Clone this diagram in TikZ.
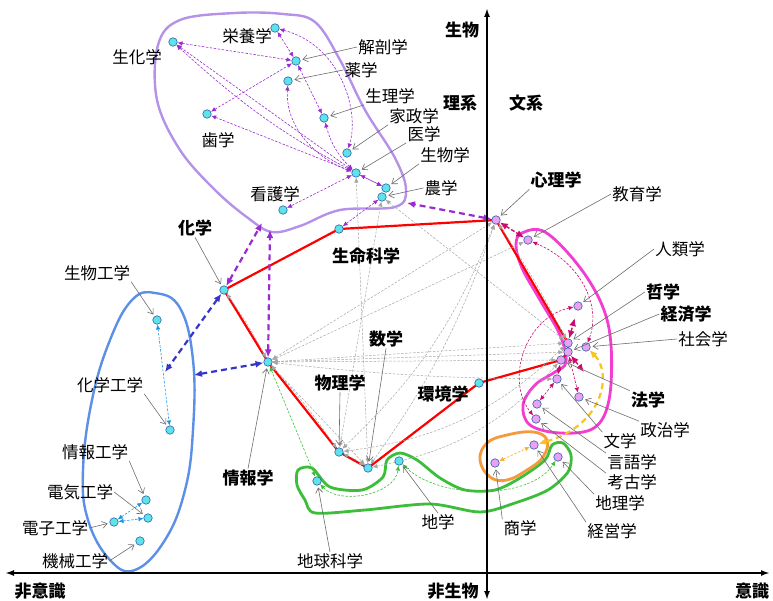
\documentclass[tikz,border=0pt]{standalone}
\usepackage{fontspec}
\setmainfont{Noto Sans CJK JP}
\usetikzlibrary{arrows.meta}
\pgfdeclarelayer{bg}
\pgfsetlayers{bg,main}
\definecolor{cyanfill}{HTML}{5FE3EA}
\definecolor{violetfill}{HTML}{E9A2F2}
\definecolor{nodeedge}{HTML}{2F5FA8}
\definecolor{lavender}{HTML}{B592E8}
\definecolor{bluering}{HTML}{5C8FE6}
\definecolor{pinkring}{HTML}{F23CD2}
\definecolor{greenring}{HTML}{3DBE3A}
\definecolor{orangering}{HTML}{F59A3C}
\definecolor{gold}{HTML}{F7C51E}
\definecolor{purp}{HTML}{9A2BD0}
\definecolor{dblue}{HTML}{3535C8}
\definecolor{crim}{HTML}{CC0A6E}
\definecolor{skyb}{HTML}{1C94E4}
\begin{document}
\begin{tikzpicture}[x=1pt,y=-1pt,
	cn/.style={circle,draw=nodeedge,fill=cyanfill,line width=0.6pt,minimum size=8.5pt,inner sep=0pt},
	vn/.style={cn,fill=violetfill},
	lbl/.style={font=\fontsize{16.5}{18}\selectfont,inner sep=1pt},
	blbl/.style={font=\fontsize{17}{19}\selectfont\bfseries,inner sep=1pt},
	lead/.style={-{Straight Barb[length=5pt,width=7pt]},gray!85!black,line width=0.6pt,shorten >=2pt},
	ring/.style={line width=2.4pt},
	redline/.style={red,line width=2.2pt},
	thickdash/.style={{Latex[length=8pt,width=7pt]}-{Latex[length=8pt,width=7pt]},line width=2.2pt,dash pattern=on 6pt off 4pt},
	thindash/.style={{Latex[length=5pt,width=4.5pt]}-{Latex[length=5pt,width=4.5pt]},line width=0.6pt,dash pattern=on 2.5pt off 1.5pt},
	gdash/.style={thindash,gray!70,line width=0.5pt},
	axis/.style={{Latex[length=9pt,width=6pt]}-{Latex[length=9pt,width=6pt]},line width=1.8pt}
	]
	\useasboundingbox (0,0) rectangle (773,601);

	% axes
	\coordinate (xl) at (5,573); \coordinate (xr) at (770,573);
	\coordinate (yt) at (487,8); \coordinate (yb) at (487,600);
	\draw[axis] (xl) -- (xr);
	\draw[axis] (yt) -- (yb);
	\node[blbl] (ax1) at (462,30) {生物};
	\node[blbl] (ax2) at (453,591) {非生物};
	\node[blbl] (ax3) at (40,591) {非意識};
	\node[blbl] (ax4) at (752,591) {意識};
	\node[blbl] (rikei) at (460,103) {理系};
	\node[blbl] (bunkei) at (526,103) {文系};

	% top cluster
	\node[cn] (seika) at (173,42) {};
	\node[cn] (eiyo) at (275,28) {};
	\node[cn] (kaibo) at (296,61) {};
	\node[cn] (yaku) at (288,81) {};
	\node[cn] (seiri) at (324,118) {};
	\node[cn] (shi) at (207,114) {};
	\node[cn] (kasei) at (347,153) {};
	\node[cn] (igaku) at (356,173) {};
	\node[cn] (seibutsu) at (386,188) {};
	\node[cn] (nogaku) at (382,197) {};
	\node[cn] (kango) at (283,210) {};
	% center
	\node[cn] (seimei) at (339,229) {};
	\node[cn] (kagaku) at (224,290) {};
	\node[cn] (joho) at (268,362) {};
	\node[cn] (butsuri) at (339,452) {};
	\node[cn] (sugaku) at (368,468) {};
	\node[cn] (kankyo) at (479,383) {};
	\node[cn] (chikyu) at (317,481) {};
	\node[cn] (chigaku) at (399,461) {};
	% engineering
	\node[cn] (bioeng) at (157,320) {};
	\node[cn] (chemeng) at (170,430) {};
	\node[cn] (infoeng) at (146,500) {};
	\node[cn] (eleceng) at (148,518) {};
	\node[cn] (elecon) at (114,522) {};
	\node[cn] (mecheng) at (140,541) {};
	% right side
	\node[vn] (shinri) at (496,220) {};
	\node[vn] (kyoiku) at (528,240) {};
	\node[vn] (jinrui) at (578,306) {};
	\node[vn] (tetsu) at (568,343) {};
	\node[vn] (shakai) at (586,347) {};
	\node[vn] (keizai) at (568,352) {};
	\node[vn] (hogaku) at (561,360) {};
	\node[vn] (bungaku) at (557,379) {};
	\node[vn] (seiji) at (579,397) {};
	\node[vn] (gengo) at (537,404) {};
	\node[vn] (koko) at (536,419) {};
	\node[vn] (keiei) at (534,445) {};
	\node[vn] (shogaku) at (495,463) {};
	\node[vn] (chiri) at (558,457) {};

	% labels
	\node[lbl] (lseika) at (137,57) {生化学};
	\node[lbl] (leiyo) at (247,36) {栄養学};
	\node[lbl] (lkaibo) at (383,47) {解剖学};
	\node[lbl] (lyaku) at (361,70) {薬学};
	\node[lbl] (lseiri) at (390,96) {生理学};
	\node[lbl] (lkasei) at (414,116) {家政学};
	\node[lbl] (ligaku) at (424,134) {医学};
	\node[lbl] (lseibutsu) at (445,155) {生物学};
	\node[lbl] (lnogaku) at (441,188) {農学};
	\node[lbl] (lshi) at (218,140) {歯学};
	\node[lbl] (lkango) at (275,194) {看護学};
	\node[blbl] (lseimei) at (366,256) {生命科学};
	\node[blbl] (lkagaku) at (195,228) {化学};
	\node[blbl] (ljoho) at (248,478) {情報学};
	\node[blbl] (lbutsuri) at (340,383) {物理学};
	\node[blbl] (lsugaku) at (386,339) {数学};
	\node[blbl] (lkankyo) at (443,394) {環境学};
	\node[lbl] (lchikyu) at (330,561) {地球科学};
	\node[lbl] (lchigaku) at (438,522) {地学};
	\node[lbl] (lbioeng) at (97,273) {生物工学};
	\node[lbl] (lchemeng) at (110,385) {化学工学};
	\node[lbl] (linfoeng) at (95,452) {情報工学};
	\node[lbl] (leleceng) at (80,492) {電気工学};
	\node[lbl] (lelecon) at (55,528) {電子工学};
	\node[lbl] (lmecheng) at (75,561) {機械工学};
	\node[blbl] (lshinri) at (556,180) {心理学};
	\node[lbl] (lkyoiku) at (637,194) {教育学};
	\node[lbl] (ljinrui) at (680,249) {人類学};
	\node[blbl] (ltetsu) at (663,292) {哲学};
	\node[blbl] (lkeizai) at (686,314) {経済学};
	\node[lbl] (lshakai) at (703,339) {社会学};
	\node[blbl] (lhogaku) at (648,400) {法学};
	\node[lbl] (lseiji) at (665,430) {政治学};
	\node[lbl] (lbungaku) at (620,441) {文学};
	\node[lbl] (lgengo) at (632,462) {言語学};
	\node[lbl] (lkoko) at (632,482) {考古学};
	\node[lbl] (lchiri) at (620,503) {地理学};
	\node[lbl] (lkeiei) at (612,531) {経営学};
	\node[lbl] (lshogaku) at (520,528) {商学};

	% leaders
	\draw[lead] (lkaibo.west) -- (kaibo);
	\draw[lead] (lyaku.west) -- (yaku);
	\draw[lead] (lseiri.south west) -- (seiri);
	\draw[lead] (lkasei.south west) -- (kasei);
	\draw[lead] (ligaku.south west) -- (igaku);
	\draw[lead] (lseibutsu.south west) -- (seibutsu);
	\draw[lead] (lnogaku.west) -- (nogaku);
	\draw[lead] (lkagaku.south) -- (kagaku);
	\draw[lead] (ljoho.north) -- (joho);
	\draw[lead] (lbutsuri.south) -- (butsuri);
	\draw[lead] (lsugaku.south) -- (sugaku);
	\draw[lead] (lchikyu.north) -- (chikyu);
	\draw[lead] (lchigaku.north) -- (chigaku);
	\draw[lead] (lbioeng.south east) -- (bioeng);
	\draw[lead] (lchemeng.south east) -- (chemeng);
	\draw[lead] (linfoeng.south east) -- (infoeng);
	\draw[lead] (leleceng.east) -- (eleceng);
	\draw[lead] (lelecon.east) -- (elecon);
	\draw[lead] (lmecheng.east) -- (mecheng);
	\draw[lead] (lshinri.south west) -- (shinri);
	\draw[lead] (lkyoiku.west) -- (kyoiku);
	\draw[lead] (ljinrui.west) -- (jinrui);
	\draw[lead] (ltetsu.west) -- (tetsu);
	\draw[lead] (lkeizai.west) -- (keizai);
	\draw[lead] (lshakai.west) -- (shakai);
	\draw[lead] (lhogaku.north west) -- (hogaku);
	\draw[lead] (lseiji.north west) -- (seiji);
	\draw[lead] (lbungaku.north west) -- (bungaku);
	\draw[lead] (lgengo.north west) -- (gengo);
	\draw[lead] (lkoko.north west) -- (koko);
	\draw[lead] (lchiri.north west) -- (chiri);
	\draw[lead] (lkeiei.north west) -- (keiei);
	\draw[lead] (lshogaku.north west) -- (shogaku);

	\begin{pgfonlayer}{bg}
	% rings
	\draw[ring,lavender] plot[smooth cycle,tension=0.6] coordinates {(283,14) (315,22) (340,60) (365,110) (395,158) (406,190) (395,207) (340,210) (300,226) (272,232) (248,218) (215,190) (180,150) (157,100) (158,45) (180,20) (235,13)};
	\draw[ring,bluering] plot[smooth cycle,tension=0.7] coordinates {(155,293) (180,308) (193,360) (193,430) (185,490) (165,540) (135,570) (110,560) (88,520) (83,470) (92,400) (110,340) (132,300)};
	\draw[ring,pinkring,line width=2.8pt] plot[smooth cycle,tension=0.6] coordinates {(522,233) (545,232) (578,265) (602,305) (611,345) (609,400) (594,428) (560,433) (530,425) (523,405) (535,385) (555,372) (566,362) (560,335) (540,300) (522,268) (516,245)};
	\draw[ring,greenring,line width=2.8pt] plot[smooth cycle,tension=0.5] coordinates {(298,470) (312,468) (330,487) (362,490) (383,477) (387,460) (400,453) (417,460) (440,478) (465,490) (495,490) (520,478) (545,460) (552,445) (563,443) (571,455) (568,472) (548,490) (515,503) (480,512) (430,504) (365,510) (315,513) (305,500) (297,485)};
	\draw[ring,orangering,line width=2.8pt] plot[smooth cycle,tension=0.7] coordinates {(480,460) (487,443) (507,435) (533,432) (547,440) (543,457) (527,470) (507,480) (490,477)};

	% red frame
	\draw[redline] (kagaku.center) -- (seimei.center) -- (shinri.center) -- (tetsu.center) -- (keizai.center) -- (hogaku.center) -- (kankyo.center) -- (sugaku.center) -- (butsuri.center) -- (joho.center) -- cycle;

	% gray links
	\draw[gdash] (kagaku) to[bend left=4] (joho);
	\draw[gdash] (joho) to[bend left=4] (butsuri);
	\draw[gdash] (joho) -- (sugaku);
	\draw[gdash] (butsuri) to[bend left=6] (sugaku);
	\draw[gdash] (joho) -- (shinri);
	\draw[gdash] (joho) -- (kyoiku);
	\draw[gdash] (joho) -- (tetsu);
	\draw[gdash] (joho) -- (keizai);
	\draw[gdash] (joho) -- (hogaku);
	\draw[gdash] (joho) to[bend right=3] (bungaku);
	\draw[gdash] (shinri) to[bend left=3] (tetsu);
	\draw[gdash] (butsuri) -- (nogaku);
	\draw[gdash] (sugaku) -- (igaku);
	\draw[gdash] (butsuri) to[bend right=12] (shinri);
	\draw[gdash] (sugaku) to[bend right=8] (shinri);
	\draw[gdash] (butsuri) to[bend right=18] (tetsu);
	\draw[gdash] (sugaku) to[bend right=18] (hogaku);
	\draw[gdash] (nogaku) -- (tetsu);

	% top cluster links
	\draw[thindash,purp] (seika) -- (kaibo);
	\draw[thindash,purp] (seika) -- (igaku);
	\draw[thindash,purp] (seika) to[bend right=8] (seibutsu);
	\draw[thindash,purp] (shi) -- (kaibo);
	\draw[thindash,purp] (shi) -- (igaku);
	\draw[thindash,purp] (eiyo) -- (kaibo);
	\draw[thindash,purp] (eiyo) .. controls (340,45) and (360,110) .. (kasei);
	\draw[thindash,purp] (kaibo) -- (seiri);
	\draw[thindash,purp] (yaku) .. controls (285,130) and (320,160) .. (igaku);
	\draw[thindash,purp] (seiri) to[bend right=15] (igaku);
	\draw[thindash,purp] (igaku) -- (seibutsu);
	\draw[thindash,purp] (igaku) -- (kango);
	\draw[thindash,purp] (seimei) -- (nogaku);

	% engineering links
	\draw[thindash,skyb] (bioeng) -- (chemeng);
	\draw[thindash,skyb] (elecon) -- (infoeng);
	\draw[thindash,skyb] (elecon) -- (eleceng);

	% earth links
	\draw[thindash,greenring] (joho) -- (chikyu);
	\draw[thindash,greenring] (chikyu) .. controls (340,505) and (395,495) .. (chigaku);
	\draw[thindash,greenring] (chigaku) .. controls (440,500) and (530,500) .. (chiri);

	% right cluster links
	\coordinate (crA) at (584,372);
	\draw[thickdash,crim,line width=1.4pt,dash pattern=on 4pt off 2pt] (shinri) -- (kyoiku);
	\draw[thickdash,crim,line width=1.4pt,dash pattern=on 4pt off 2pt,shorten >=8pt] (tetsu) -- (jinrui);
	\draw[thickdash,crim,line width=1.4pt,dash pattern=on 4pt off 2pt] (keizai) -- (crA);
	\draw[thindash,crim] (kyoiku) .. controls (580,262) and (602,305) .. (shakai);
	\draw[thindash,crim] (jinrui) .. controls (525,318) and (505,380) .. (koko);
	\draw[thindash,crim] (keizai) -- (seiji);
	\draw[thindash,crim] (hogaku) -- (bungaku);
	\draw[thindash,crim] (bungaku) -- (gengo);
	\draw[thindash,orangering!80!yellow] (shogaku) -- (keiei);
	\draw[thickdash,gold] (shakai) .. controls (612,372) and (605,425) .. (keiei);

	% cluster links
	\coordinate (lavR) at (407,203);
	\coordinate (lavL) at (262,223);
	\coordinate (lavB) at (270,230);
	\coordinate (bluA) at (165,372);
	\coordinate (bluB) at (194,375);
	\draw[thickdash,purp] (shinri) -- (lavR);
	\draw[thickdash,purp] (kagaku) -- (lavL);
	\draw[thickdash,purp] (joho) -- (lavB);
	\draw[thickdash,dblue] (kagaku) -- (bluA);
	\draw[thickdash,dblue] (joho) -- (bluB);
	\end{pgfonlayer}
\end{tikzpicture}
\end{document}
